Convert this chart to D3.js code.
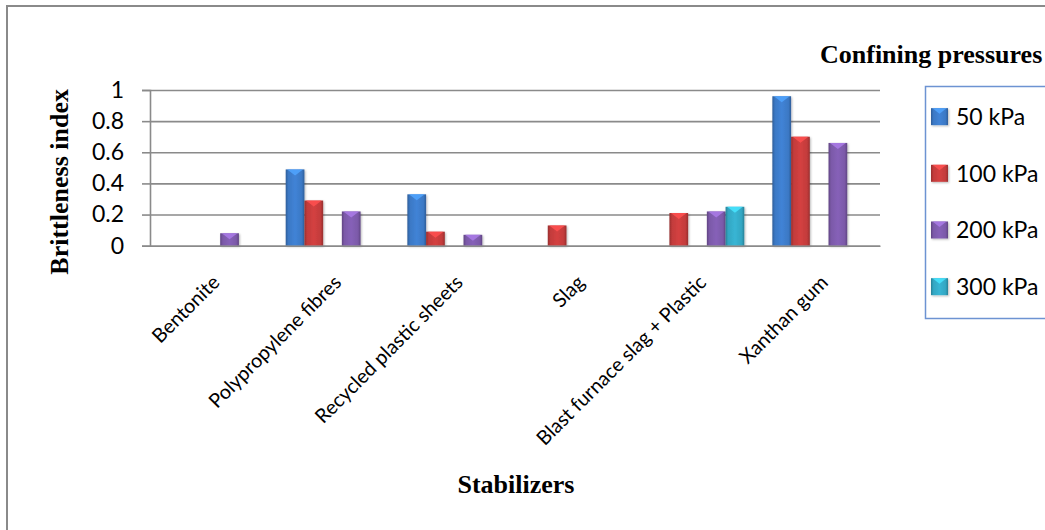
<!DOCTYPE html>
<html>
<head>
<meta charset="utf-8">
<script src="https://cdn.jsdelivr.net/npm/d3@7"></script>
<style>
  html, body { margin: 0; padding: 0; background: #ffffff; }
  svg { display: block; }
</style>
</head>
<body>
<svg id="chart" width="1045" height="530"></svg>
<script>
// Stabilizer categories along the x axis
const categories = [
  "Bentonite",
  "Polypropylene fibres",
  "Recycled plastic sheets",
  "Slag",
  "Blast furnace slag + Plastic",
  "Xanthan gum"
];

// Brittleness index per confining pressure (null = not tested)
const kpa50  = [null, 0.49, 0.33, null, null, 0.96];
const kpa100 = [null, 0.29, 0.09, 0.13, 0.21, 0.70];
const kpa200 = [0.08, 0.22, 0.07, null, 0.22, 0.66];
const kpa300 = [null, null, null, null, 0.25, null];

const seriesNames = ["50 kPa", "100 kPa", "200 kPa", "300 kPa"];
const seriesValues = [kpa50, kpa100, kpa200, kpa300];
// Each cluster keeps five slots; the middle one stays empty.
const seriesSlot = [0, 1, 3, 4];
const slotCount = 5;

const yTicks = [0, 0.2, 0.4, 0.6, 0.8, 1];
const yTickLabels = ["0", "0.2", "0.4", "0.6", "0.8", "1"];

const yTitle = "Brittleness index";
const xTitle = "Stabilizers";
const legendTitle = "Confining pressures";

const colors = ["#3b78c4", "#c23b3b", "#7b59a8", "#33a6c2"];

const svg = d3.select("#chart");
const defs = svg.append("defs");

// Soft shadow under bars
const shadow = defs.append("filter").attr("id", "barShadow")
  .attr("x", "-30%").attr("y", "-30%").attr("width", "160%").attr("height", "160%");
shadow.append("feDropShadow")
  .attr("dx", 1).attr("dy", 1).attr("stdDeviation", 1.2)
  .attr("flood-color", "#000").attr("flood-opacity", 0.28);

// Bevelled fill: darker edges, lighter centre
colors.forEach((c, i) => {
  const g = defs.append("linearGradient").attr("id", "bevel" + i)
    .attr("x1", "0%").attr("x2", "100%").attr("y1", "0%").attr("y2", "0%");
  const base = d3.color(c);
  [[0, base.darker(0.7)], [0.14, base], [0.5, base.brighter(0.25)], [0.86, base], [1, base.darker(0.7)]]
    .forEach(([o, col]) => g.append("stop").attr("offset", o).attr("stop-color", col.formatHex()));
});

// Outer frame
svg.append("rect")
  .attr("x", 7).attr("y", 6).attr("width", 1100).attr("height", 600)
  .attr("fill", "#ffffff").attr("stroke", "#8a8a8a").attr("stroke-width", 2);

const plot = { left: 150, right: 880, top: 90, bottom: 245.7 };

const x = d3.scaleBand().domain(categories).range([plot.left, plot.right]).padding(0);
const slot = d3.scaleBand().domain(d3.range(slotCount)).range([0, x.bandwidth()])
  .paddingInner(0).paddingOuter(0.75);
const y = d3.scaleLinear().domain([0, 1]).range([plot.bottom, plot.top]);

// Gridlines with tick marks
const grid = svg.append("g").attr("transform", `translate(${plot.left},0)`)
  .call(d3.axisLeft(y).tickValues(yTicks).tickSize(-(plot.right - plot.left)).tickFormat(""));
grid.select(".domain").remove();
grid.selectAll(".tick line").attr("stroke", "#8a8a8a").attr("stroke-width", 1.6);

const yAxis = svg.append("g").attr("transform", `translate(${plot.left},0)`)
  .call(d3.axisLeft(y).tickValues(yTicks).tickSize(8).tickPadding(18)
    .tickFormat((d, i) => yTickLabels[i]));
yAxis.select(".domain").attr("stroke", "#8a8a8a").attr("stroke-width", 1.6);
yAxis.selectAll(".tick line").attr("stroke", "#8a8a8a").attr("stroke-width", 1.6);
yAxis.selectAll(".tick text")
  .attr("font-family", "Lato, 'Open Sans', sans-serif").attr("font-size", 23).attr("fill", "#000");

// Bars
const barData = [];
seriesValues.forEach((vals, s) => {
  vals.forEach((v, c) => {
    if (v != null) barData.push({ s, cat: categories[c], v });
  });
});

const bars = svg.append("g").selectAll("g.bar").data(barData).join("g")
  .attr("class", "bar").attr("filter", "url(#barShadow)");

bars.append("rect")
  .attr("x", d => x(d.cat) + slot(seriesSlot[d.s]))
  .attr("y", d => y(d.v))
  .attr("width", slot.bandwidth())
  .attr("height", d => y(0) - y(d.v))
  .attr("fill", d => `url(#bevel${d.s})`);

bars.append("path")
  .attr("d", d => {
    const x0 = x(d.cat) + slot(seriesSlot[d.s]);
    const w = slot.bandwidth();
    const y0 = y(d.v);
    const h = Math.min(w * 0.32, (y(0) - y0) * 0.8);
    return `M${x0 + 1.5},${y0}L${x0 + w - 1.5},${y0}L${x0 + w / 2},${y0 + h}Z`;
  })
  .attr("fill", d => d3.color(colors[d.s]).brighter(0.9).formatHex())
  .attr("opacity", 0.85);

// X axis line
const xAxis = svg.append("g").attr("transform", `translate(0,${plot.bottom})`)
  .call(d3.axisBottom(x).tickSize(0).tickFormat(""));
xAxis.select(".domain").attr("stroke", "#8a8a8a").attr("stroke-width", 1.6);

// Rotated category labels
svg.append("g").selectAll("text").data(categories).join("text")
  .attr("transform", d => `translate(${x(d) + x.bandwidth() / 2 + 10},${plot.bottom + 38}) rotate(-45)`)
  .attr("text-anchor", "end")
  .attr("font-family", "Lato, 'Open Sans', sans-serif").attr("font-size", 19.8).attr("fill", "#000")
  .text(d => d);

// Axis titles
svg.append("text")
  .attr("transform", `translate(68,${(plot.top + plot.bottom) / 2 + 14}) rotate(-90)`)
  .attr("text-anchor", "middle")
  .attr("font-family", "'Liberation Serif', 'Times New Roman', serif")
  .attr("font-weight", "bold").attr("font-size", 26).attr("fill", "#000")
  .text(yTitle);

svg.append("text")
  .attr("x", (plot.left + plot.right) / 2 + 1).attr("y", 493)
  .attr("text-anchor", "middle")
  .attr("font-family", "'Liberation Serif', 'Times New Roman', serif")
  .attr("font-weight", "bold").attr("font-size", 26).attr("fill", "#000")
  .text(xTitle);

svg.append("text")
  .attr("x", 820).attr("y", 63)
  .attr("font-family", "'Liberation Serif', 'Times New Roman', serif")
  .attr("font-weight", "bold").attr("font-size", 26).attr("fill", "#000")
  .text(legendTitle);

// Legend
const legend = { left: 925.5, top: 86.5, bottom: 318.5 };
svg.append("rect")
  .attr("x", legend.left).attr("y", legend.top)
  .attr("width", 140).attr("height", legend.bottom - legend.top)
  .attr("fill", "#ffffff").attr("stroke", "#6d93d2").attr("stroke-width", 1.5);

const ly = d3.scaleBand().domain(seriesNames).range([legend.top + 1.8, legend.bottom - 3.5]);

const items = svg.append("g").selectAll("g").data(seriesNames).join("g")
  .attr("transform", d => `translate(0,${ly(d) + ly.bandwidth() / 2})`);

items.append("rect")
  .attr("x", 931).attr("y", -8.5).attr("width", 17).attr("height", 17)
  .attr("fill", (d, i) => `url(#bevel${i})`)
  .attr("filter", "url(#barShadow)");
items.append("path")
  .attr("d", "M932.5,-8.5L946.5,-8.5L939.5,-3Z")
  .attr("fill", (d, i) => d3.color(colors[i]).brighter(0.9).formatHex())
  .attr("opacity", 0.85);
items.append("text")
  .attr("x", 956).attr("y", 8.3)
  .attr("font-family", "Lato, 'Open Sans', sans-serif").attr("font-size", 23).attr("fill", "#000")
  .text(d => d);
</script>
</body>
</html>
